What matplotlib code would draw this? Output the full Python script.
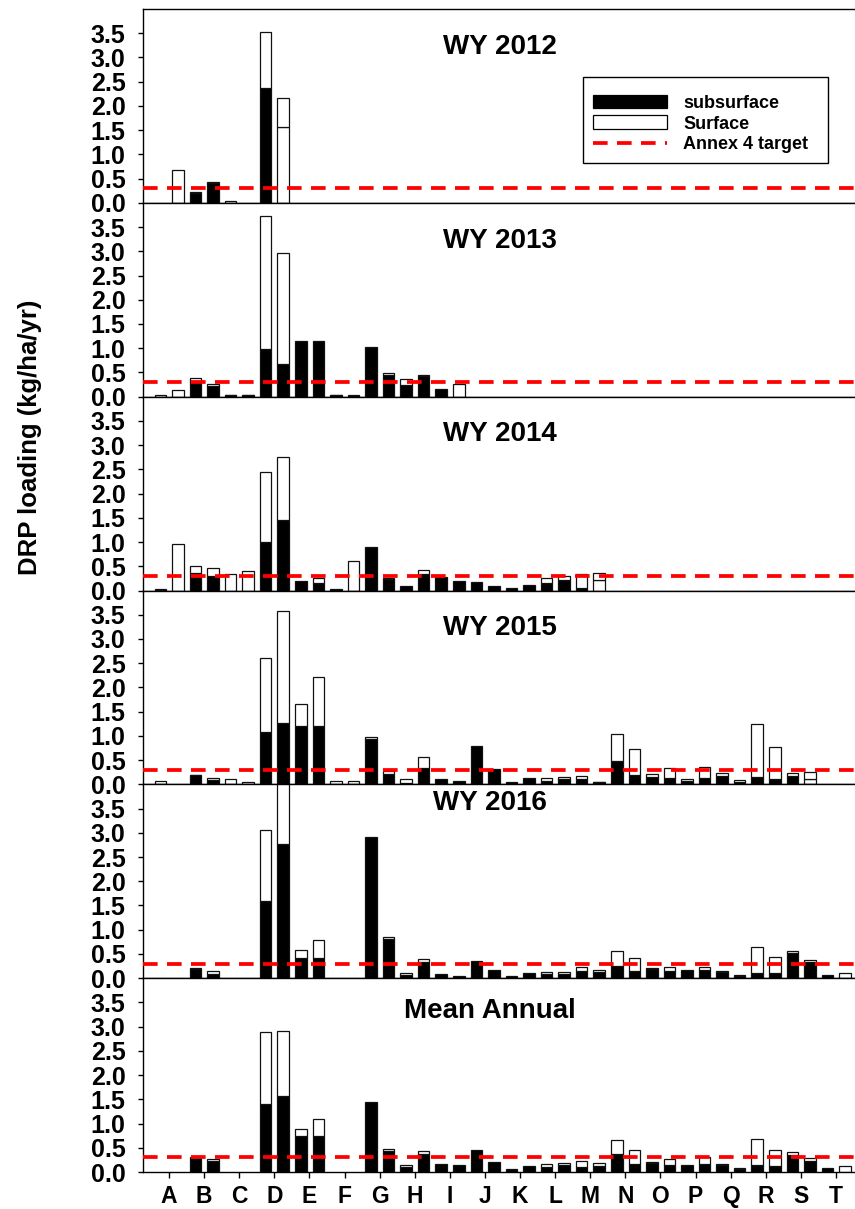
import numpy as np
import matplotlib
matplotlib.use("Agg")
import matplotlib.pyplot as plt
from matplotlib.patches import Patch
from matplotlib.lines import Line2D

plt.rcParams['font.family'] = ['Liberation Sans', 'DejaVu Sans']
plt.rcParams['font.weight'] = 'bold'

# ---------------- data ----------------
categories = list("ABCDEFGHIJKLMNOPQRST")
panel_titles = ["WY 2012", "WY 2013", "WY 2014", "WY 2015", "WY 2016", "Mean Annual"]
target = 0.3
y_ticks = [0.0, 0.5, 1.0, 1.5, 2.0, 2.5, 3.0, 3.5]

# order: A1, A2, B1, B2, ... T1, T2
sub_2012 = [0, 0, 0.20, 0.40, 0, 0, 2.37, 1.57] + [0] * 32
surf_2012 = [0, 0.68, 0.02, 0.02, 0.04, 0, 1.15, 0.60] + [0] * 32

sub_2013 = [0, 0, 0.33, 0.22, 0.03, 0.03, 0.98, 0.67, 1.15, 1.15,
            0.03, 0.02, 1.03, 0.45, 0.24, 0.42, 0.15, 0] + [0] * 22
surf_2013 = [0.04, 0.14, 0.05, 0.04, 0.01, 0.01, 2.75, 2.30, 0, 0,
             0.01, 0.01, 0, 0.04, 0.12, 0.03, 0, 0.27] + [0] * 22

sub_2014 = [0.02, 0, 0.37, 0.30, 0, 0, 1.00, 1.45, 0.19, 0.165,
            0.03, 0, 0.90, 0.24, 0.10, 0.34, 0.27, 0.19, 0.185, 0.10,
            0.055, 0.11, 0.165, 0.22, 0.05, 0.22] + [0] * 14
surf_2014 = [0.02, 0.96, 0.13, 0.17, 0.35, 0.41, 1.44, 1.30, 0, 0.09,
             0, 0.60, 0, 0.02, 0, 0.09, 0, 0, 0, 0,
             0, 0, 0.10, 0.08, 0.30, 0.15] + [0] * 14

sub_2015 = [0, 0, 0.19, 0.09, 0, 0.01, 1.07, 1.27, 1.21, 1.21,
            0, 0, 0.93, 0.21, 0.03, 0.34, 0.11, 0.065, 0.80, 0.32,
            0.055, 0.13, 0.06, 0.10, 0.11, 0.04, 0.475, 0.19, 0.145, 0.13,
            0.075, 0.14, 0.18, 0.04, 0.145, 0.10, 0.18, 0.11, 0, 0]
surf_2015 = [0.07, 0, 0.01, 0.05, 0.12, 0.03, 1.53, 2.30, 0.44, 1.01,
             0.075, 0.065, 0.05, 0.07, 0.085, 0.22, 0, 0, 0, 0,
             0, 0, 0.07, 0.05, 0.055, 0.01, 0.565, 0.54, 0.07, 0.21,
             0.03, 0.22, 0.05, 0.05, 1.11, 0.68, 0.055, 0.145, 0, 0]

sub_2016 = [0, 0, 0.18, 0.09, 0, 0, 1.60, 2.77, 0.42, 0.42,
            0, 0, 2.92, 0.80, 0.07, 0.33, 0.09, 0.05, 0.355, 0.16,
            0.05, 0.10, 0.08, 0.09, 0.145, 0.12, 0.26, 0.145, 0.19, 0.15,
            0.16, 0.16, 0.12, 0.04, 0.10, 0.10, 0.52, 0.33, 0.075, 0.01]
surf_2016 = [0, 0, 0.03, 0.05, 0, 0, 1.46, 1.30, 0.16, 0.37,
             0, 0, 0, 0.05, 0.03, 0.06, 0, 0, 0, 0,
             0, 0, 0.04, 0.03, 0.095, 0.05, 0.30, 0.27, 0.02, 0.09,
             0, 0.08, 0.02, 0.03, 0.54, 0.34, 0.045, 0.04, 0, 0.10]

sub_mean = [0, 0, 0.29, 0.23, 0, 0, 1.41, 1.56, 0.74, 0.74,
            0, 0, 1.45, 0.43, 0.10, 0.37, 0.16, 0.145, 0.45, 0.20,
            0.06, 0.12, 0.11, 0.14, 0.11, 0.12, 0.37, 0.17, 0.18, 0.15,
            0.14, 0.165, 0.15, 0.06, 0.14, 0.12, 0.35, 0.23, 0.09, 0.01]
surf_mean = [0, 0, 0.01, 0.04, 0, 0, 1.47, 1.35, 0.155, 0.36,
             0, 0, 0, 0.05, 0.05, 0.07, 0, 0, 0, 0,
             0, 0, 0.05, 0.04, 0.12, 0.07, 0.30, 0.28, 0.02, 0.11,
             0, 0.135, 0.02, 0.03, 0.55, 0.335, 0.055, 0.05, 0, 0.11]

# bars whose subsurface part is drawn unfilled in the original
sub_unfilled = [[7], [], [25], [37], [], []]

subs = [sub_2012, sub_2013, sub_2014, sub_2015, sub_2016, sub_mean]
surfs = [surf_2012, surf_2013, surf_2014, surf_2015, surf_2016, surf_mean]

# ---------------- layout ----------------
W, H = 855, 1209
fig = plt.figure(figsize=(W / 100, H / 100), dpi=100)
left_px, top_px, bottom_px = 143, 9, 1172
panel_h = (bottom_px - top_px) / 6.0

title_pos = [(9.43, 3.22), (9.43, 3.22), (9.43, 3.22), (9.43, 3.22), (9.15, 3.62), (9.15, 3.33)]

cat_idx = np.arange(len(categories))
x1 = cat_idx - 0.245
x2 = cat_idx + 0.255
xpos = np.empty(2 * len(categories))
xpos[0::2] = x1
xpos[1::2] = x2
bw = 0.33

axes = []
for k in range(6):
    y_top = top_px + k * panel_h
    ax = fig.add_axes([left_px / W, 1 - (y_top + panel_h) / H, 1 - left_px / W, panel_h / H])
    axes.append(ax)
    sub = np.array(subs[k], dtype=float)
    surf = np.array(surfs[k], dtype=float)
    sub_colors = np.array(['white' if i in sub_unfilled[k] else 'black' for i in range(len(sub))])
    m = sub > 0
    ax.bar(xpos[m], sub[m], width=bw, color=sub_colors[m], edgecolor='#111111',
           linewidth=0.9, zorder=2)
    m2 = surf > 0
    ax.bar(xpos[m2], surf[m2], width=bw, bottom=sub[m2], color='white', edgecolor='#111111',
           linewidth=0.9, zorder=2)
    ax.axhline(target, color='#ff0000', lw=2.7, dashes=(3.9, 2.5), zorder=3)
    ax.set_ylim(0, 4.0)
    ax.set_xlim(-0.74, 19.54)
    ax.set_yticks(y_ticks)
    ax.set_yticklabels([f"{v:.1f}" for v in y_ticks])
    ax.tick_params(axis='y', direction='out', length=3.5, width=1, pad=9, labelsize=18)
    for s in ['top', 'left', 'bottom']:
        ax.spines[s].set_linewidth(1.0)
    ax.spines['right'].set_visible(False)
    for lab in ax.get_yticklabels():
        lab.set_fontweight('bold')
    if k < 5:
        ax.set_xticks([])
    else:
        ax.set_xticks(cat_idx)
        ax.set_xticklabels(categories)
        ax.tick_params(axis='x', direction='out', length=4.5, width=1, pad=5, labelsize=16.5)
        for lab in ax.get_xticklabels():
            lab.set_fontweight('bold')
    tx, ty = title_pos[k]
    ax.text(tx, ty, panel_titles[k], ha='center', va='center', fontsize=20, fontweight='bold')

# legend in first panel
handles = [Patch(facecolor='black', edgecolor='black', lw=0.9),
           Patch(facecolor='white', edgecolor='black', lw=0.9),
           Line2D([0], [0], color='#ff0000', lw=2.7, dashes=(3.9, 2.5))]
leg = axes[0].legend(handles, ['subsurface', 'Surface', 'Annex 4 target'],
                     loc='upper left', bbox_to_anchor=(583 / W, 1 - 163 / H, 245 / W, 86 / H),
                     bbox_transform=fig.transFigure, mode='expand', fancybox=False, framealpha=1,
                     edgecolor='black', handlelength=4.1, handleheight=0.8,
                     handletextpad=0.9, labelspacing=0.2, borderpad=0.55, borderaxespad=0,
                     title=' ', title_fontsize=3,
                     prop={'weight': 'bold', 'size': 13})
leg.get_frame().set_linewidth(1.0)

fig.text(30 / W, 1 - 437 / H, "DRP loading (kg/ha/yr)", rotation=90, ha='center', va='center',
         fontsize=18.5, fontweight='bold')

fig.savefig("out.png", dpi=100)
